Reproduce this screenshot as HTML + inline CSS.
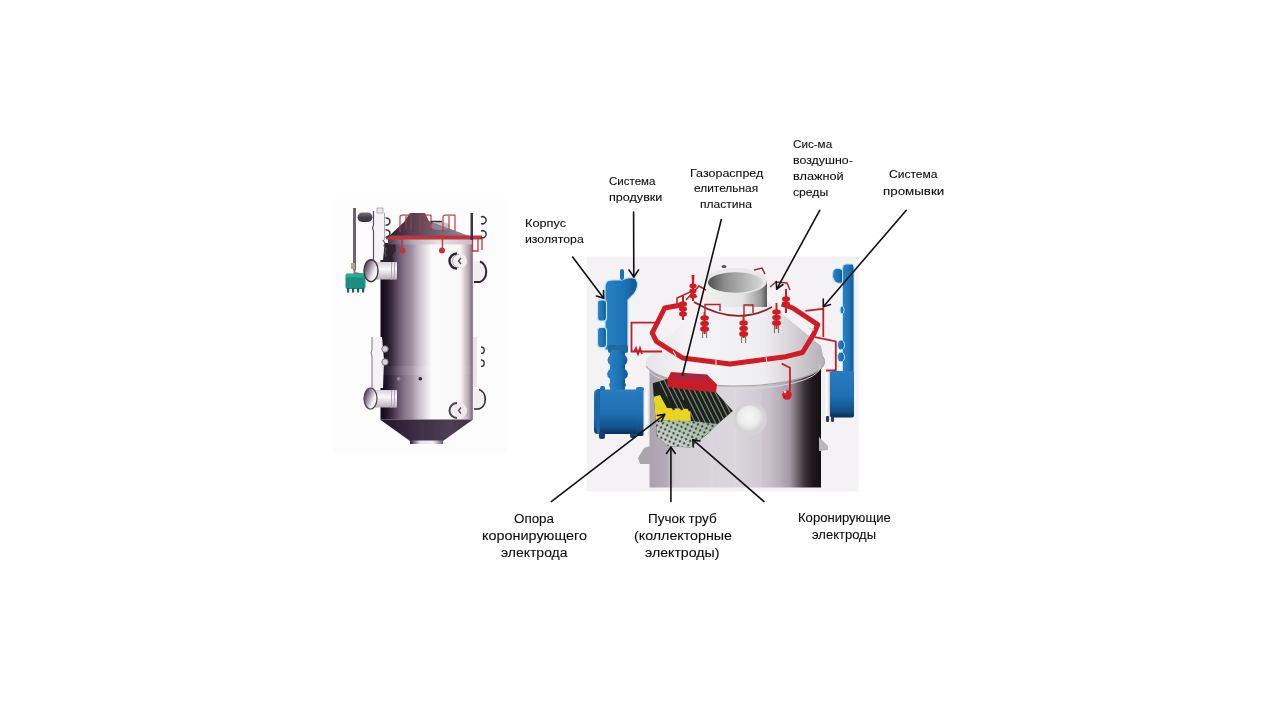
<!DOCTYPE html>
<html><head><meta charset="utf-8">
<style>
html,body{margin:0;padding:0;background:#fff;width:1280px;height:720px;overflow:hidden;}
svg{position:absolute;left:0;top:0;}
.t{position:absolute;transform-origin:0 0;font-family:"Liberation Sans",sans-serif;font-size:11.5px;color:#0a0a0a;-webkit-text-stroke:0.08px #0a0a0a;white-space:nowrap;line-height:1;}
</style></head><body>
<svg width="1280" height="720" viewBox="0 0 1280 720">
<defs>
  <linearGradient id="lbody" x1="0" x2="1" y1="0" y2="0">
    <stop offset="0" stop-color="#120816"/>
    <stop offset="0.04" stop-color="#1a1020"/>
    <stop offset="0.12" stop-color="#3a2a40"/>
    <stop offset="0.2" stop-color="#6a586e"/>
    <stop offset="0.27" stop-color="#8a788e"/>
    <stop offset="0.34" stop-color="#a090a2"/>
    <stop offset="0.405" stop-color="#c6bac4"/>
    <stop offset="0.51" stop-color="#ece6ec"/>
    <stop offset="0.557" stop-color="#fbfbfb"/>
    <stop offset="0.86" stop-color="#f8f8f8"/>
    <stop offset="0.90" stop-color="#e0d4d8"/>
    <stop offset="0.955" stop-color="#b4a4ae"/>
    <stop offset="0.985" stop-color="#857684"/>
    <stop offset="1" stop-color="#9a8c98"/>
  </linearGradient>
  <linearGradient id="lband" x1="0" x2="1" y1="0" y2="0">
    <stop offset="0" stop-color="#ffffff" stop-opacity="0.3"/>
    <stop offset="0.5" stop-color="#ffffff" stop-opacity="0.8"/>
    <stop offset="1" stop-color="#ffffff" stop-opacity="0.2"/>
  </linearGradient>
  <linearGradient id="lrim" x1="0" x2="1" y1="0" y2="0">
    <stop offset="0" stop-color="#4a3a4e"/>
    <stop offset="0.3" stop-color="#b8acba"/>
    <stop offset="0.6" stop-color="#e8e2e8"/>
    <stop offset="1" stop-color="#c8bcc8"/>
  </linearGradient>
  <linearGradient id="lcone" x1="0" x2="1" y1="0" y2="0">
    <stop offset="0" stop-color="#2c2030"/>
    <stop offset="0.4" stop-color="#5e4e62"/>
    <stop offset="1" stop-color="#9a8c9c"/>
  </linearGradient>
  <linearGradient id="lcone2" x1="0" x2="1" y1="0" y2="0">
    <stop offset="0" stop-color="#22142a"/>
    <stop offset="0.4" stop-color="#3e2e44"/>
    <stop offset="0.75" stop-color="#4e3e54"/>
    <stop offset="1" stop-color="#3e3044"/>
  </linearGradient>
  <linearGradient id="llip" x1="0" x2="1" y1="0" y2="0">
    <stop offset="0" stop-color="#2a1a30"/>
    <stop offset="0.3" stop-color="#e8e0e8"/>
    <stop offset="0.7" stop-color="#f4f0f4"/>
    <stop offset="1" stop-color="#6a5a70"/>
  </linearGradient>
  <linearGradient id="lnoz" x1="0" x2="0" y1="0" y2="1">
    <stop offset="0" stop-color="#d8d0d8"/>
    <stop offset="0.4" stop-color="#fbf9fb"/>
    <stop offset="1" stop-color="#b8acba"/>
  </linearGradient>
  <linearGradient id="rbody" x1="0" x2="1" y1="0" y2="0">
    <stop offset="0" stop-color="#aaa2ae"/>
    <stop offset="0.1" stop-color="#b4acb8"/>
    <stop offset="0.15" stop-color="#d4d0d6"/>
    <stop offset="0.5" stop-color="#dad7dc"/>
    <stop offset="0.62" stop-color="#d2ccd4"/>
    <stop offset="0.70" stop-color="#c8c0c8"/>
    <stop offset="0.76" stop-color="#b8b0b8"/>
    <stop offset="0.82" stop-color="#a098a2"/>
    <stop offset="0.865" stop-color="#6a6068"/>
    <stop offset="0.907" stop-color="#3a3236"/>
    <stop offset="0.947" stop-color="#201a1e"/>
    <stop offset="1" stop-color="#121012"/>
  </linearGradient>
  <linearGradient id="rcone" x1="0" x2="1" y1="0" y2="0">
    <stop offset="0" stop-color="#e6e4e8"/>
    <stop offset="0.25" stop-color="#f4f3f5"/>
    <stop offset="0.65" stop-color="#efeef0"/>
    <stop offset="0.82" stop-color="#d4d2d6"/>
    <stop offset="1" stop-color="#b4b0b6"/>
  </linearGradient>
  <filter id="soft" x="-5%" y="-5%" width="110%" height="110%"><feGaussianBlur stdDeviation="0.45"/></filter>
</defs>
<defs>
  <linearGradient id="rneck" x1="0" x2="1" y1="0" y2="0">
    <stop offset="0" stop-color="#f0f0f0"/>
    <stop offset="0.6" stop-color="#e4e4e4"/>
    <stop offset="0.9" stop-color="#9a9a9a"/>
    <stop offset="1" stop-color="#555"/>
  </linearGradient>
  <linearGradient id="rneckin" x1="0" x2="1" y1="0" y2="0">
    <stop offset="0" stop-color="#505050"/>
    <stop offset="0.3" stop-color="#8c8c8c"/>
    <stop offset="0.7" stop-color="#b8b8b8"/>
    <stop offset="1" stop-color="#d8d8d8"/>
  </linearGradient>
</defs>

<defs>
  <linearGradient id="bluev" x1="0" x2="1" y1="0" y2="0">
    <stop offset="0" stop-color="#2a82c6"/>
    <stop offset="0.6" stop-color="#1d72b5"/>
    <stop offset="1" stop-color="#14568e"/>
  </linearGradient>
  <linearGradient id="blueh" x1="0" x2="0" y1="0" y2="1">
    <stop offset="0" stop-color="#2a7cc0"/>
    <stop offset="0.55" stop-color="#1d6fb2"/>
    <stop offset="0.85" stop-color="#14518a"/>
    <stop offset="1" stop-color="#0c2e58"/>
  </linearGradient>
  <linearGradient id="wring" x1="0" x2="1" y1="0" y2="0">
    <stop offset="0" stop-color="#e8e8ea"/>
    <stop offset="0.5" stop-color="#ffffff"/>
    <stop offset="1" stop-color="#c8c8cc"/>
  </linearGradient>
  <radialGradient id="rman" cx="0.45" cy="0.4" r="0.6">
    <stop offset="0" stop-color="#f8f8f8"/>
    <stop offset="0.6" stop-color="#ebebeb"/>
    <stop offset="1" stop-color="#d0d0d0"/>
  </radialGradient>
</defs>
<defs>
  <linearGradient id="lcap" x1="0" x2="0" y1="0" y2="1">
    <stop offset="0" stop-color="#7a707e"/>
    <stop offset="0.5" stop-color="#4a4050"/>
    <stop offset="1" stop-color="#3a3040"/>
  </linearGradient>
  <linearGradient id="lcapend" x1="0" x2="1" y1="0.2" y2="0.8">
    <stop offset="0" stop-color="#3a2c40"/>
    <stop offset="0.35" stop-color="#9a8c9e"/>
    <stop offset="0.7" stop-color="#f2eef2"/>
    <stop offset="1" stop-color="#ffffff"/>
  </linearGradient>
</defs>

<g filter="url(#soft)"><!-- LEFT IMAGE -->
<rect x="333" y="199" width="174" height="253.5" fill="#fcfcfc"/>
<!-- body -->
<rect x="380.5" y="243" width="92.5" height="176.5" fill="url(#lbody)"/>
<!-- light band -->
<rect x="380.5" y="366" width="92.5" height="9" fill="url(#lband)" opacity="0.14"/>
<!-- dark irregular left top of body -->
<path d="M380.5,243 L395,243 L396,250 L392,256 L394,262 L381,264 Z" fill="#2e2232" opacity="0.9"/>
<!-- rim under ring -->
<rect x="388" y="239" width="84" height="5.5" fill="url(#lrim)"/>
<!-- shoulder cone -->
<polygon points="410,213 425,213 429,221 472,237 388,237 404,222" fill="url(#lcone)"/>
<ellipse cx="440" cy="226" rx="10" ry="4" fill="#a898aa" opacity="0.6"/>
<!-- red loops on top -->
<g stroke="#b83238" stroke-width="1.25" fill="none" stroke-linejoin="round" opacity="0.9">
  <path d="M400,232 V217 Q400,215 402,215 H411 V231 M406,216 V229"/>
  <path d="M420,232 V217 Q420,215 422,215 H431 V231 M425.5,216 V229"/>
  <path d="M443,232 V217 Q443,215 445,215 H455 V231 M449,216 V229"/>
</g>
<line x1="431" y1="221.5" x2="442" y2="221.5" stroke="#3a2a3a" stroke-width="1.5"/>
<!-- red ring -->
<path d="M386,237 L388,235.5 H482 V239.5 H386 Z" fill="#c0343a"/>
<!-- red drops -->
<g stroke="#c0343a" stroke-width="1.3" fill="#c0343a">
  <line x1="402" y1="239" x2="402" y2="249"/><circle cx="402.5" cy="250.5" r="2.4"/>
  <line x1="442.5" y1="239" x2="442.5" y2="249"/><circle cx="442" cy="250.5" r="2.4"/>
  <path d="M472.5,239 V251 H478 V239 M482,239 V250" fill="none"/>
</g>
<!-- bottom cone -->
<polygon points="380,419.5 473,419.5 443,441 410,441" fill="url(#lcone2)"/>
<rect x="410" y="440.5" width="33" height="3.5" fill="url(#llip)"/>
<!-- left gray thin pipe + capsule -->
<rect x="353" y="208" width="3" height="62" fill="#6c6470"/>
<rect x="357.5" y="212.5" width="15" height="9.5" rx="4.7" fill="url(#lcap)"/>
<path d="M354.5,268 L354.5,273 L366,275" stroke="#8a8070" stroke-width="2" fill="none"/>
<rect x="351" y="263" width="4" height="6" fill="#b0a880"/>
<!-- teal box -->
<rect x="345.5" y="273.5" width="20" height="15.5" rx="2" fill="#1c8e80"/>
<rect x="346" y="274" width="19" height="3.5" fill="#2aa898"/>
<g fill="#1a6058"><rect x="347" y="288" width="2.2" height="4.5"/><rect x="352" y="288" width="2.2" height="4.5"/><rect x="357" y="288" width="2.2" height="4.5"/><rect x="362" y="288" width="2.2" height="4.5"/></g>
<!-- left upper vertical white pipe with rings -->
<path d="M373,213 L384,213 L385,240 L383,260 L374,260 Z" fill="#f6f3f6"/>
<rect x="377" y="208" width="6" height="5" fill="#ece8ec" stroke="#8a808c" stroke-width="0.6"/>
<line x1="384.5" y1="213" x2="384.5" y2="240" stroke="#9a909c" stroke-width="0.8"/>
<g stroke="#5a5060" stroke-width="1.2" fill="none">
  <path d="M373.5,211 V225 l-1,3 l1,3 V262"/>
  <path d="M383,240 l2,3 l-1,3 l2,3 l-1,3 l1,5"/>
</g>
<g fill="none" stroke="#3c343e" stroke-width="1.5">
  <path d="M385.5,218 a3.6,3.6 0 1 1 0,7"/>
  <path d="M385.5,230 a3.6,3.6 0 1 1 0,7"/>
</g>
<!-- left upper nozzle -->
<rect x="372" y="262" width="25" height="17.5" fill="url(#lnoz)"/>
<g stroke="#b0a8b2" stroke-width="1"><line x1="391.5" y1="262" x2="391.5" y2="279.5"/><line x1="394.5" y1="262" x2="394.5" y2="279.5"/></g>
<ellipse cx="371" cy="270.7" rx="7" ry="11" fill="url(#lcapend)" stroke="#3e3440" stroke-width="1.4"/>
<!-- right upper vertical pipe -->
<rect x="470.5" y="213" width="2.5" height="27" fill="#3c343e"/>
<g fill="none" stroke="#3c343e" stroke-width="1.5">
  <path d="M481,217 a3.6,3.6 0 1 1 0,6.5"/>
  <path d="M481,231 a3.6,3.6 0 1 1 0,6.5"/>
</g>
<!-- right upper nozzle -->
<path d="M473,261 H480 a8,11 0 0 1 0,21 H473 Z" fill="#f2eef2"/>
<path d="M480,261.5 a8,10.5 0 0 1 0,20.5 H474" fill="none" stroke="#2e2630" stroke-width="2"/>
<!-- manholes -->
<circle cx="459.5" cy="261" r="7.5" fill="#f2eef2"/>
<path d="M457,253.5 a7.5,7.5 0 0 0 0,15" stroke="#2a2230" stroke-width="2.4" fill="none"/>
<path d="M459,254.5 a6.5,6.5 0 0 0 0,13" stroke="#9a909c" stroke-width="0.8" fill="none"/>
<path d="M461,258 l-2.5,3 l2.5,3" stroke="#4a424c" stroke-width="1.3" fill="none"/>
<circle cx="459.5" cy="410.5" r="7.5" fill="#eeeaee"/>
<path d="M457,403 a7.5,7.5 0 0 0 0,15" stroke="#4a4250" stroke-width="2" fill="none"/>
<path d="M461,407.5 l-2.5,3 l2.5,3" stroke="#4a424c" stroke-width="1.2" fill="none"/>
<!-- lower left vertical pipe -->
<path d="M372,337 H382 L384,360 L383,388 H373 Z" fill="#f6f3f6"/>
<g stroke="#8a808c" stroke-width="1.1" fill="none">
  <path d="M372,337 V350 l-1,3 l1,3 V388"/>
</g>
<g fill="#dcd4dc" stroke="#7a707c" stroke-width="1"><circle cx="385" cy="349" r="3.2"/><circle cx="385" cy="362" r="3.2"/></g>
<!-- lower left nozzle -->
<rect x="372" y="390" width="25" height="17.5" fill="url(#lnoz)"/>
<g stroke="#b0a8b2" stroke-width="1"><line x1="391.5" y1="390" x2="391.5" y2="407.5"/><line x1="394.5" y1="390" x2="394.5" y2="407.5"/></g>
<ellipse cx="370.5" cy="398.5" rx="6.5" ry="10.5" fill="url(#lcapend)" stroke="#4e4450" stroke-width="1.2"/>
<!-- lower right vertical + nozzle -->
<rect x="473" y="337" width="4" height="50" fill="#e8e4e8"/>
<g fill="none" stroke="#3c343e" stroke-width="1.4">
  <path d="M481,347 a3.2,3.2 0 1 1 0,6.4"/>
  <path d="M481,360 a3.2,3.2 0 1 1 0,6.4"/>
</g>
<path d="M473,389 H480 a8,10.5 0 0 1 0,20.5 H473 Z" fill="#f2eef2"/>
<path d="M479,389.5 a8,10 0 0 1 0,19.5 H474" fill="none" stroke="#2e2630" stroke-width="1.6"/>
<!-- dots -->
<circle cx="398.7" cy="378.7" r="1.8" fill="#9a8e9c"/>
<circle cx="420.3" cy="378.7" r="1.8" fill="#2e2430"/>
</g>
<g filter="url(#soft)"><!-- RIGHT IMAGE -->
<rect x="586.5" y="256.5" width="272" height="235" fill="#f4f2f5"/>
<!-- body cylinder -->
<rect x="649.5" y="362" width="171.5" height="125.5" fill="url(#rbody)"/>
<g stroke="#ffffff" stroke-opacity="0.12" stroke-width="1">
  <line x1="670" y1="390" x2="670" y2="487"/><line x1="690" y1="390" x2="690" y2="487"/>
  <line x1="712" y1="390" x2="712" y2="487"/><line x1="735" y1="390" x2="735" y2="487"/>
  <line x1="760" y1="390" x2="760" y2="487"/>
</g>
<!-- supports -->
<polygon points="638,458 644,448 650,446 650,464 640,464" fill="#a8a6ac"/>
<polygon points="819,437 828,446 828,450 819,451" fill="#b8b8b8"/>
<!-- cone / top head -->
<path d="M646,360 L704,302 L768,302 L821,346 L823,356 A88,25 0 0 1 646,366 Z" fill="url(#rcone)"/>
<path d="M646,366 A88,24 0 0 0 823,357" fill="none" stroke="#a8a8a8" stroke-width="1.3"/>
<path d="M650,372 A86,22 0 0 0 819,364" fill="none" stroke="#d8d8d8" stroke-width="1"/>
<!-- neck -->
<rect x="705" y="281" width="62" height="26" fill="url(#rneck)"/>
<ellipse cx="736" cy="281" rx="31" ry="13" fill="#e8e8e8"/>
<ellipse cx="735.5" cy="282.5" rx="27.5" ry="10.2" fill="url(#rneckin)"/>
<!-- small neck brackets -->
<ellipse cx="724" cy="266.5" rx="2.5" ry="1.5" fill="#555"/>
<path d="M754,270 l8,-2 l3,6" stroke="#8a2a30" stroke-width="1.5" fill="none"/>
<!-- thin red ring around neck -->
<g fill="none" stroke="#b0202a" stroke-width="1.5"><path d="M677,306 V298 L690,292 L697,297"/><path d="M686,300 L699,286 L706,290"/><path d="M770,287 L776,282 L787,283 L790,290"/></g>
<path d="M694,302 Q736,327 772,307" fill="none" stroke="#8e2028" stroke-width="1.8"/>
<g fill="none" stroke="#a8262c" stroke-width="1.4">
  <path d="M705,312 V304.5 H720 V311"/>
  <path d="M744,315 V305 H753 V313"/>
</g>
<!-- manhole -->
<circle cx="750" cy="419" r="16.8" fill="#d4d4d4"/>
<circle cx="750" cy="419" r="13.5" fill="url(#rman)"/>
<!-- red octagon ring -->
<polyline points="681,305 664.7,308 652.2,333 656.4,341.4 682.8,358 730,364 785.8,356.7 802.5,352.5 813.6,334.4 817.8,324.7 792.8,308 781.7,304" fill="none" stroke="#d01c24" stroke-width="5" stroke-linejoin="round"/>
<g stroke="#f4c8c8" stroke-width="1.2">
  <line x1="673" y1="351" x2="676" y2="356"/><line x1="716" y1="360" x2="716" y2="366"/>
  <line x1="766" y1="357" x2="767" y2="363"/><line x1="809" y1="328" x2="814" y2="330"/>
</g>
<!-- side branches -->
<g fill="none" stroke="#c41e26" stroke-width="1.8">
  <path d="M660,322.6 H631.5 V351.5 H662"/>
  <path d="M634,352 l2,-4 l2,6 l2,-6 l2,6"/>
  <path d="M805.3,310.8 L823.3,308.75 V337"/>
  <path d="M815,337.2 L835.8,341.4 V370.5 H826"/>
  <path d="M781.7,363.6 L790,367.8 V391"/>
</g>
<circle cx="787" cy="395" r="4.8" fill="#d41c22"/>
<circle cx="785" cy="392" r="1.4" fill="#f8e0e0"/>
<!-- insulators -->
<g fill="#d01c24">
  <g transform="translate(704.6,312)"><rect x="-1" y="0" width="2" height="22"/><ellipse cx="0" cy="6" rx="4.3" ry="2.8"/><ellipse cx="0" cy="11.5" rx="4.3" ry="2.8"/><ellipse cx="0" cy="17" rx="4.5" ry="2.9"/></g>
  <g transform="translate(743.6,316)"><rect x="-1" y="0" width="2" height="22"/><ellipse cx="0" cy="7" rx="4.3" ry="2.8"/><ellipse cx="0" cy="12.5" rx="4.3" ry="2.8"/><ellipse cx="0" cy="18" rx="4.5" ry="2.9"/></g>
  <g transform="translate(776.5,303)"><rect x="-1" y="0" width="2" height="26"/><ellipse cx="0" cy="9" rx="4.3" ry="2.8"/><ellipse cx="0" cy="14.5" rx="4.3" ry="2.8"/><ellipse cx="0" cy="20" rx="4.5" ry="2.9"/></g>
  <g transform="translate(683,296)"><rect x="-1" y="0" width="2" height="24"/><ellipse cx="0" cy="8" rx="4" ry="2.7"/><ellipse cx="0" cy="13" rx="4" ry="2.7"/><ellipse cx="0" cy="18" rx="4" ry="2.7"/></g>
  <g transform="translate(693,275)"><path d="M-1.5,0 L1.5,0 L1,8 L-1,8 Z"/><rect x="-1" y="0" width="2" height="26"/><ellipse cx="0" cy="11" rx="3.6" ry="2.4"/><ellipse cx="0" cy="16" rx="3.6" ry="2.4"/><ellipse cx="0" cy="21" rx="3.6" ry="2.4"/></g>
  <g transform="translate(786,289)"><rect x="-1" y="0" width="2" height="24"/><ellipse cx="0" cy="10" rx="4" ry="2.8"/><ellipse cx="0" cy="15" rx="4" ry="2.8"/></g>
</g>
<g stroke="#6a6a6a" stroke-width="1">
  <line x1="702.6" y1="332" x2="702.6" y2="338"/><line x1="706.6" y1="332" x2="706.6" y2="338"/>
  <line x1="741.6" y1="337" x2="741.6" y2="343"/><line x1="745.6" y1="337" x2="745.6" y2="343"/>
  <line x1="774.5" y1="326" x2="774.5" y2="333"/><line x1="778.5" y1="326" x2="778.5" y2="333"/>
</g>
<!-- electrode block -->
<clipPath id="eclip"><polygon points="652.8,383.3 667,379 716,392 732.8,411 716,425.6 707,434.4 690,447.5 668,446 657,437 654,400"/></clipPath>
<pattern id="dots" width="4.6" height="4.6" patternUnits="userSpaceOnUse" patternTransform="rotate(25)"><circle cx="2.3" cy="2.3" r="1.05" fill="#1a241a"/></pattern>
<linearGradient id="dotbg" x1="1" y1="0" x2="0" y2="1">
  <stop offset="0" stop-color="#98b098"/>
  <stop offset="0.5" stop-color="#b8c8b8"/>
  <stop offset="1" stop-color="#d8d6da"/>
</linearGradient>
<g clip-path="url(#eclip)">
  <rect x="640" y="370" width="100" height="80" fill="#1c201c"/>
  <g stroke="#7e8e80" stroke-width="1.1">
    <line x1="655" y1="372" x2="685" y2="432"/><line x1="660" y1="372" x2="690" y2="432"/>
    <line x1="665" y1="372" x2="695" y2="432"/><line x1="670" y1="372" x2="700" y2="432"/>
    <line x1="675" y1="372" x2="705" y2="432"/><line x1="680" y1="372" x2="710" y2="432"/>
    <line x1="685" y1="372" x2="715" y2="432"/><line x1="690" y1="372" x2="720" y2="432"/>
    <line x1="695" y1="372" x2="725" y2="432"/><line x1="700" y1="372" x2="730" y2="432"/>
    <line x1="705" y1="372" x2="735" y2="432"/><line x1="710" y1="372" x2="740" y2="432"/>
  </g>
  <polygon points="653,397 660,395 667,408 690,409 691,422 653,420" fill="#e8d424"/>
  <g stroke="#1c201c" stroke-width="2.2"><line x1="668" y1="396" x2="674" y2="410"/><line x1="676" y1="398" x2="682" y2="410"/><line x1="684" y1="400" x2="690" y2="411"/></g>
  <polygon points="653,420 691,421 718,424 716,427 690,448 653,448" fill="url(#dotbg)"/>
  <polygon points="653,420 691,421 718,424 716,427 690,448 653,448" fill="url(#dots)"/>
</g>
<!-- red plate -->
<polygon points="667,380 671,372 707,374.4 717,384.4 716,392.5 690,390 668,387" fill="#c81c26"/>
<polygon points="671,373 707,375 712,380 676,380" fill="#9a2a4a" opacity="0.7"/>
<!-- left blue assembly -->
<g fill="url(#bluev)" stroke="#b8e6f4" stroke-width="1.2">
  <path d="M605,287 Q605,280 612,280 L622,280 Q630,276 636,279 Q640,286 634,294 L628,300 L628,350 L605,350 Z"/>
  <rect x="597.5" y="300" width="9" height="21" rx="3"/>
  <rect x="597.5" y="327.5" width="9" height="20" rx="3"/>
</g>
<rect x="620" y="269" width="4" height="11" rx="2" fill="#1d72b5"/>
<g fill="url(#bluev)">
  <rect x="608" y="345" width="20" height="8" rx="2" fill="#1a6a9e"/>
  <rect x="610" y="350" width="15" height="42" rx="4"/>
  <ellipse cx="617.5" cy="360" rx="10" ry="7.5"/>
  <ellipse cx="617.5" cy="374" rx="10.5" ry="7"/>
  <ellipse cx="617.5" cy="385" rx="8.5" ry="4.5"/>
</g>
<rect x="594" y="389.5" width="50" height="44.5" rx="4" fill="url(#blueh)"/>
<path d="M597,389 Q592,411 597,434 L600,434 L600,389 Z" fill="#1a66a6"/>
<rect x="600" y="386" width="5" height="5" rx="2" fill="#1d6fb2"/>
<rect x="599" y="432" width="6" height="7" rx="2" fill="#123f70"/>
<rect x="636" y="387" width="8" height="49" rx="2" fill="url(#blueh)"/>
<rect x="630" y="433" width="6" height="5" rx="2" fill="#123f70"/>
<rect x="643.5" y="390" width="6.5" height="46" fill="url(#wring)"/>
<!-- right blue assembly -->
<g fill="url(#bluev)" stroke="#b8e6f4" stroke-width="1">
  <path d="M842.5,268 Q842.5,264 846,264 L852,264 Q854,264 854,268 L854,374 L842.5,374 Z"/>
  <path d="M842.5,270 Q836,266 833,271 Q831,277 835,282 Q838,284 842.5,283 Z"/>
  <ellipse cx="841" cy="345" rx="3.5" ry="5"/>
  <ellipse cx="841" cy="357" rx="3.5" ry="5"/>
  <ellipse cx="842" cy="310" rx="2" ry="4"/>
</g>
<rect x="830" y="371" width="24" height="46.5" rx="2" fill="url(#blueh)"/>
<rect x="823.5" y="372" width="6.5" height="48" fill="url(#wring)"/>
<rect x="826" y="416" width="3" height="6" rx="1" fill="#2a3a58"/><rect x="831" y="416" width="3" height="6" rx="1" fill="#2a3a58"/>
</g>
<!-- ARROWS -->
<g stroke="#111" stroke-width="1.6" fill="none" stroke-linecap="round" stroke-linejoin="round">
  <line x1="572.6" y1="257" x2="603.7" y2="298.3"/>
  <path d="M596.5,296 L603.7,298.3 L603.5,290.5"/>
  <line x1="633.6" y1="212" x2="633.8" y2="277"/>
  <path d="M629,270 L633.8,277 L638.5,270"/>
  <line x1="721.3" y1="219.5" x2="682.5" y2="375"/>
  <line x1="819.7" y1="210.3" x2="776.7" y2="289.2"/>
  <path d="M776.2,281.5 L776.7,289.2 L783,284.5"/>
  <line x1="906.3" y1="210.3" x2="823.3" y2="306.7"/>
  <path d="M823.3,299 L823.3,306.7 L830.5,304.5"/>
  <line x1="551.3" y1="501.6" x2="664.7" y2="414.4"/>
  <path d="M657.3,415.5 L664.7,414.4 L661.5,421.3"/>
  <line x1="670.9" y1="501.6" x2="670.9" y2="447.2"/>
  <path d="M666.5,453.5 L670.9,447.2 L675.3,453.5"/>
  <line x1="764" y1="501.6" x2="692.8" y2="439.7"/>
  <path d="M693.3,447 L692.8,439.7 L700,441"/>
</g>

</svg>
<div class="t" style="left:524.89px;top:218.10px;font-size:11.5px;transform:scaleX(1.108)">Корпус</div>
<div class="t" style="left:525.20px;top:234.10px;font-size:11.5px;transform:scaleX(1.069)">изолятора</div>
<div class="t" style="left:608.90px;top:176.10px;font-size:11.5px;transform:scaleX(1.003)">Система</div>
<div class="t" style="left:608.58px;top:191.90px;font-size:11.5px;transform:scaleX(1.094)">продувки</div>
<div class="t" style="left:689.71px;top:167.80px;font-size:11.5px;transform:scaleX(1.088)">Газораспред</div>
<div class="t" style="left:694.08px;top:183.40px;font-size:11.5px;transform:scaleX(1.035)">елительная</div>
<div class="t" style="left:700.01px;top:199.40px;font-size:11.5px;transform:scaleX(1.050)">пластина</div>
<div class="t" style="left:792.99px;top:138.80px;font-size:11.5px;transform:scaleX(1.013)">Сис-ма</div>
<div class="t" style="left:792.69px;top:155.00px;font-size:11.5px;transform:scaleX(1.076)">воздушно-</div>
<div class="t" style="left:792.67px;top:170.60px;font-size:11.5px;transform:scaleX(1.107)">влажной</div>
<div class="t" style="left:792.97px;top:186.70px;font-size:11.5px;transform:scaleX(1.059)">среды</div>
<div class="t" style="left:888.88px;top:168.70px;font-size:11.5px;transform:scaleX(1.047)">Система</div>
<div class="t" style="left:882.83px;top:186.00px;font-size:11.5px;transform:scaleX(1.161)">промывки</div>
<div class="t" style="left:514.14px;top:512.50px;font-size:12.0px;transform:scaleX(1.115)">Опора</div>
<div class="t" style="left:481.80px;top:529.60px;font-size:12.0px;transform:scaleX(1.201)">коронирующего</div>
<div class="t" style="left:500.92px;top:547.40px;font-size:12.0px;transform:scaleX(1.163)">электрода</div>
<div class="t" style="left:647.78px;top:512.50px;font-size:12.0px;transform:scaleX(1.123)">Пучок труб</div>
<div class="t" style="left:633.81px;top:529.60px;font-size:12.0px;transform:scaleX(1.188)">(коллекторные</div>
<div class="t" style="left:644.81px;top:547.40px;font-size:12.0px;transform:scaleX(1.179)">электроды)</div>
<div class="t" style="left:797.71px;top:511.90px;font-size:12.0px;transform:scaleX(1.089)">Коронирующие</div>
<div class="t" style="left:812.46px;top:528.70px;font-size:12.0px;transform:scaleX(1.082)">электроды</div>

</body></html>
